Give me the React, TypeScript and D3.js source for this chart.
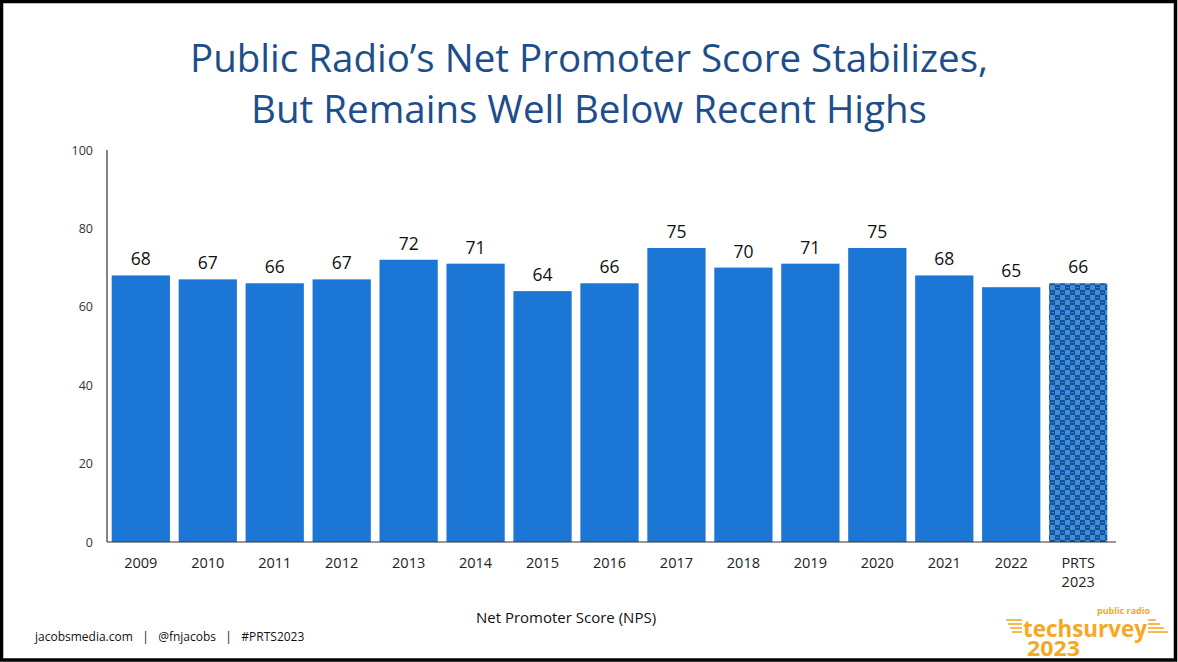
import React from "react";
import * as d3 from "d3";

const categories = ["2009","2010","2011","2012","2013","2014","2015","2016","2017","2018","2019","2020","2021","2022","PRTS 2023"];
const values = [68,67,66,67,72,71,64,66,75,70,71,75,68,65,66];
const yTicks = [0,20,40,60,80,100];
const titleLines = ["Public Radio’s Net Promoter Score Stabilizes,", "But Remains Well Below Recent Highs"];
const xAxisTitle = "Net Promoter Score (NPS)";
const footer = "jacobsmedia.com   |   @fnjacobs   |   #PRTS2023";

const W = 1178, H = 662;
const left = 107, right = 1112, top = 150, bottom = 542;
const font = "Open Sans, sans-serif";

export default function App() {
  const x = d3.scaleBand<string>().domain(categories).range([left, right]).paddingInner(0.13).paddingOuter(0.07);
  const y = d3.scaleLinear().domain([0, 100]).range([bottom, top]);
  const orange = "#F7A823";
  return (
    <svg width={W} height={H} style={{ position: "absolute", left: 0, top: 0 }}>
      <defs>
        <pattern id="chk" width={10} height={10} patternUnits="userSpaceOnUse">
          <rect width={10} height={10} fill="#3C8DE2" />
          <rect x={0} y={0} width={5} height={5} fill="#17528F" />
          <rect x={5} y={5} width={5} height={5} fill="#17528F" />
          <rect x={1} y={2} width={3} height={1} fill="#3A7EC8" />
          <rect x={6} y={7} width={3} height={1} fill="#3A7EC8" />
        </pattern>
      </defs>
      <rect x={0} y={0} width={W} height={H} fill="#fff" />
      <rect x={1.5} y={1.5} width={W - 4} height={H - 3.5} fill="none" stroke="#000" strokeWidth={3.5} />
      {titleLines.map((t, i) => (
        <text key={i} x={589} y={72 + i * 51} textAnchor="middle" fontFamily={font} fontSize={38.5} fill="#1D4E8B">{t}</text>
      ))}
      {yTicks.map((t) => (
        <text key={t} x={93} y={y(t) + 4.5} textAnchor="end" fontFamily={font} fontSize={12.5} fill="#333">{t}</text>
      ))}
      {categories.map((c, i) => {
        const bx = x(c)!;
        const bw = x.bandwidth();
        const isLast = i === categories.length - 1;
        const parts = c.split(" ");
        return (
          <g key={c}>
            <rect x={bx} y={y(values[i])} width={bw} height={bottom - y(values[i])} fill={isLast ? "url(#chk)" : "#1C76D5"} />
            <text x={bx + bw / 2} y={y(values[i]) - 10} textAnchor="middle" fontFamily={font} fontSize={17.5} fill="#111">{values[i]}</text>
            {parts.map((p, j) => (
              <text key={j} x={bx + bw / 2} y={568 + j * 19} textAnchor="middle" fontFamily={font} fontSize={14.5} fill="#222">{p}</text>
            ))}
          </g>
        );
      })}
      <line x1={left} x2={left} y1={top} y2={bottom} stroke="#333" strokeWidth={1.2} />
      <line x1={left} x2={1116} y1={bottom} y2={bottom} stroke="#333" strokeWidth={1.2} />
      <text x={566} y={623} textAnchor="middle" fontFamily={font} fontSize={15} fill="#111">{xAxisTitle}</text>
      <text x={35} y={641} fontFamily={font} fontSize={12} fill="#111" style={{ whiteSpace: "pre" }}>{footer}</text>
      <g>
        <text x={1097} y={614} fontFamily={font} fontSize={9.5} fontWeight="bold" fill={orange} textLength={53} lengthAdjust="spacingAndGlyphs">public radio</text>
        <text x={1023} y={637} fontFamily={font} fontSize={23} fontWeight="bold" fill={orange} textLength={124} lengthAdjust="spacingAndGlyphs">techsurvey</text>
        <text x={1027} y={656} fontFamily={font} fontSize={21} fontWeight="bold" fill={orange} textLength={53} lengthAdjust="spacingAndGlyphs">2023</text>
        {[0, 1, 2, 3].map((k) => (
          <line key={"l" + k} x1={1006 + k * 2} x2={1022} y1={620 + k * 4} y2={620 + k * 4} stroke={orange} strokeWidth={1.6} />
        ))}
        {[0, 1, 2, 3].map((k) => (
          <line key={"r" + k} x1={1148} x2={1156 + k * 4} y1={620 + k * 4} y2={620 + k * 4} stroke={orange} strokeWidth={1.6} />
        ))}
      </g>
    </svg>
  );
}
